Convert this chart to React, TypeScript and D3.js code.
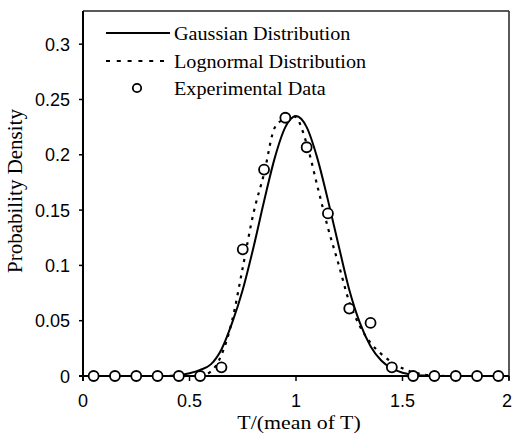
import React from "react";
import * as d3 from "d3";

const W = 512;
const H = 433;

const xTicks = [0, 0.5, 1, 1.5, 2];
const xTickLabels = ["0", "0.5", "1", "1.5", "2"];
const yTicks = [0, 0.05, 0.1, 0.15, 0.2, 0.25, 0.3];
const yTickLabels = ["0", "0.05", "0.1", "0.15", "0.2", "0.25", "0.3"];

const gaussX = [0.4, 0.45, 0.5, 0.55, 0.6, 0.65, 0.7, 0.75, 0.8, 0.85, 0.9, 0.95, 1.0, 1.05, 1.1, 1.15, 1.2, 1.25, 1.3, 1.35, 1.4, 1.45, 1.5, 1.55, 1.6, 1.65];
const gaussY = [0, 0.0008, 0.0025, 0.0055, 0.0105, 0.024, 0.048, 0.078, 0.116, 0.158, 0.197, 0.225, 0.235, 0.225, 0.197, 0.159, 0.118, 0.078, 0.048, 0.027, 0.014, 0.0068, 0.003, 0.0012, 0.0004, 0];

const lognX = [0.55, 0.6, 0.65, 0.7, 0.75, 0.8, 0.85, 0.9, 0.95, 0.98, 1.0, 1.05, 1.1, 1.15, 1.2, 1.25, 1.3, 1.35, 1.4, 1.45, 1.5, 1.55, 1.6, 1.65, 1.7];
const lognY = [0, 0.004, 0.019, 0.05, 0.098, 0.147, 0.183, 0.2245, 0.233, 0.2355, 0.234, 0.21, 0.172, 0.134, 0.101, 0.067, 0.045, 0.030, 0.020, 0.0125, 0.007, 0.0035, 0.0013, 0.0003, 0];

const expX = [0.05, 0.15, 0.25, 0.35, 0.45, 0.55, 0.65, 0.75, 0.85, 0.95, 1.05, 1.15, 1.25, 1.35, 1.45, 1.55, 1.65, 1.75, 1.85, 1.95];
const expY = [0, 0, 0, 0, 0, 0, 0.0078, 0.1145, 0.1866, 0.2335, 0.2068, 0.147, 0.061, 0.048, 0.0078, 0, 0, 0, 0, 0];

const legendLabels = ["Gaussian Distribution", "Lognormal Distribution", "Experimental Data"];
const xLabel = "T/(mean of T)";
const yLabel = "Probability Density";

export default function App() {
  const left = 83, right = 509, top = 11, bottom = 376;
  const x = d3.scaleLinear().domain([0, 2]).range([left, right]);
  const y = d3.scaleLinear().domain([0, 0.33]).range([bottom, top]);

  const line = d3
    .line<[number, number]>()
    .x((d) => x(d[0]))
    .y((d) => y(d[1]))
    .curve(d3.curveMonotoneX);

  const gaussPath = line(gaussX.map((v, i) => [v, gaussY[i]] as [number, number])) || "";
  const lognPath = line(lognX.map((v, i) => [v, lognY[i]] as [number, number])) || "";

  const serif = "'Liberation Serif', 'Times New Roman', serif";
  const sans = "'Liberation Sans', Arial, sans-serif";

  const legRows = [33, 61, 88];

  return (
    <svg
      width={W}
      height={H}
      style={{ position: "absolute", left: 0, top: 0, background: "#fff" }}
    >
      <rect x={0} y={0} width={W} height={H} fill="#fff" />
      {/* frame top/right */}
      <line x1={left} x2={right} y1={top} y2={top} stroke="#222" strokeWidth={1.5} />
      <line x1={right} x2={right} y1={top} y2={bottom + 4} stroke="#222" strokeWidth={1.5} />

      {/* curves */}
      <path d={gaussPath} fill="none" stroke="#000" strokeWidth={2} />
      <path d={lognPath} fill="none" stroke="#000" strokeWidth={2.2} strokeDasharray="3,5.5" />

      {/* axes */}
      <line x1={left} x2={left} y1={top} y2={bottom + 5} stroke="#000" strokeWidth={2} />
      <line x1={left - 4} x2={right} y1={bottom} y2={bottom} stroke="#000" strokeWidth={2} />

      {yTicks.map((t, i) => (
        <g key={"yt" + i}>
          <line x1={left - 4} x2={left} y1={y(t)} y2={y(t)} stroke="#000" strokeWidth={1.5} />
          <text x={70} y={y(t) + 6.5} textAnchor="end" fontFamily={sans} fontSize={18} fill="#000">
            {yTickLabels[i]}
          </text>
        </g>
      ))}
      {xTicks.map((t, i) => (
        <g key={"xt" + i}>
          <line x1={x(t)} x2={x(t)} y1={bottom} y2={bottom + 5} stroke="#000" strokeWidth={1.5} />
          <text
            x={i === xTicks.length - 1 ? W : x(t)}
            y={407}
            textAnchor={i === xTicks.length - 1 ? "end" : "middle"}
            fontFamily={sans}
            fontSize={18}
            fill="#000"
          >
            {xTickLabels[i]}
          </text>
        </g>
      ))}

      {/* experimental data */}
      {expX.map((v, i) => (
        <circle key={"c" + i} cx={x(v)} cy={y(expY[i])} r={5} fill="#fff" stroke="#000" strokeWidth={1.8} />
      ))}

      {/* legend */}
      <line x1={106} x2={170} y1={legRows[0]} y2={legRows[0]} stroke="#000" strokeWidth={2} />
      <line x1={106} x2={170} y1={legRows[1]} y2={legRows[1]} stroke="#000" strokeWidth={2} strokeDasharray="4,6.8" />
      <circle cx={137} cy={legRows[2]} r={4.2} fill="#fff" stroke="#000" strokeWidth={1.8} />
      {legendLabels.map((s, i) => (
        <text
          key={"lg" + i}
          transform={`translate(174,${legRows[i] + 7}) scale(1.12,1)`}
          fontFamily={serif}
          fontSize={18}
          fill="#000"
        >
          {s}
        </text>
      ))}

      {/* axis labels */}
      <text
        transform={`translate(299,429) scale(1.15,1)`}
        textAnchor="middle"
        fontFamily={serif}
        fontSize={19}
        fill="#000"
      >
        {xLabel}
      </text>
      <text
        transform={`translate(22,191) rotate(-90)`}
        textAnchor="middle"
        fontFamily={serif}
        fontSize={21}
        fill="#000"
      >
        {yLabel}
      </text>
    </svg>
  );
}
